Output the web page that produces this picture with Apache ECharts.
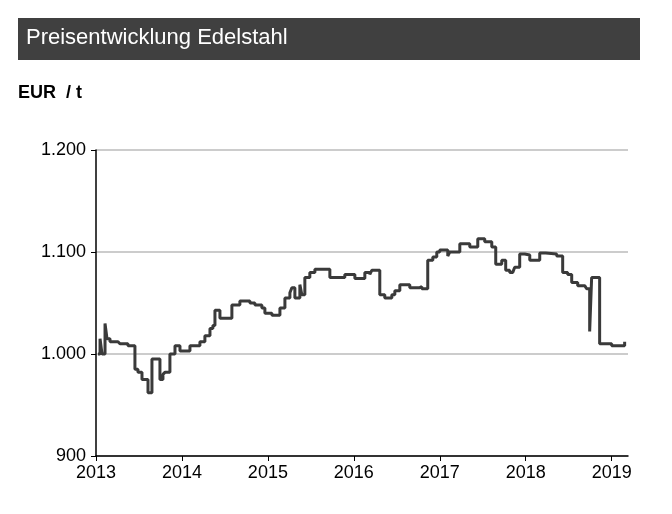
<!DOCTYPE html>
<html><head><meta charset="utf-8">
<script src="https://cdn.jsdelivr.net/npm/echarts@6/dist/echarts.min.js"></script>
<style>html,body{margin:0;padding:0;background:#fff}#c{width:672px;height:514px}</style>
</head><body><div id="c"></div>
<script>
const yearOffsets = [0.023,0.047,0.07,0.105,0.128,0.163,0.256,0.279,0.372,0.453,0.488,0.535,0.605,0.628,0.651,0.744,0.779,0.802,0.86,0.919,0.977,1.093,1.209,1.267,1.326,1.36,1.384,1.442,1.535,1.581,1.674,1.791,1.849,1.93,1.965,2.047,2.14,2.198,2.256,2.279,2.314,2.372,2.395,2.43,2.488,2.547,2.721,2.779,2.895,2.953,3.012,3.128,3.186,3.209,3.302,3.36,3.442,3.477,3.535,3.651,3.767,3.791,3.86,3.919,3.965,4,4.093,4.116,4.233,4.291,4.349,4.442,4.523,4.558,4.605,4.651,4.721,4.767,4.814,4.849,4.872,4.93,4.988,5.047,5.163,5.233,5.36,5.372,5.43,5.488,5.535,5.605,5.686,5.709,5.744,5.767,5.86,5.919,6,6.151];
const prices = [1000,1015,1000,1030,1015,1012,1012,1010,1008,985,982,975,962,962,995,975,980,982,1000,1008,1003,1008,1012,1018,1025,1028,1043,1035,1035,1048,1052,1050,1048,1045,1040,1038,1045,1055,1060,1065,1055,1068,1058,1075,1080,1083,1075,1075,1078,1078,1074,1080,1078,1082,1058,1055,1058,1062,1068,1065,1066,1064,1092,1095,1100,1102,1096,1100,1108,1108,1105,1113,1110,1110,1105,1088,1092,1082,1080,1080,1085,1098,1097,1092,1099,1098,1096,1096,1080,1078,1070,1067,1066,1064,1022,1075,1010,1010,1008,1012,1020];
const startYear = 2013;
const yTicks = [900, 1000, 1100, 1200];
const data = yearOffsets.map((o,i)=>[startYear+o, prices[i]]);
const chart = echarts.init(document.getElementById('c'));
const font = 'Liberation Sans, Arial, sans-serif';
chart.setOption({
  animation:false,
  graphic:[
    {type:'rect',shape:{x:18,y:18,width:622,height:42},style:{fill:'#404040'}},
    {type:'text',left:26,top:27,style:{text:'Preisentwicklung Edelstahl',fill:'#fff',font:'22px '+font}},
    {type:'text',left:18,top:84,style:{text:'EUR  / t',fill:'#000',font:'bold 18px '+font}}
  ],
  grid:{left:96,right:44,top:150,bottom:58},
  xAxis:{type:'value',min:2013,max:2019.19,interval:1,
    axisLine:{lineStyle:{color:'#000',width:1.5}},
    axisTick:{show:true,length:5,lineStyle:{color:'#000'}},
    splitLine:{show:false},
    axisLabel:{color:'#000',fontSize:18,fontFamily:font,showMaxLabel:false,margin:8,formatter:v=>String(Math.round(v))}},
  yAxis:{type:'value',min:yTicks[0],max:yTicks[yTicks.length-1],interval:100,
    axisLine:{show:true,lineStyle:{color:'#000',width:1.5}},
    axisTick:{show:true,length:5,lineStyle:{color:'#000'}},
    splitLine:{lineStyle:{color:'#bbb',width:1.5}},
    axisLabel:{color:'#000',fontSize:18,fontFamily:font,margin:10,formatter:v=>v.toLocaleString('de-DE')}},
  series:[{type:'line',step:'end',data:data,showSymbol:false,lineStyle:{color:'#3a3a3a',width:3}}]
});
</script></body></html>
